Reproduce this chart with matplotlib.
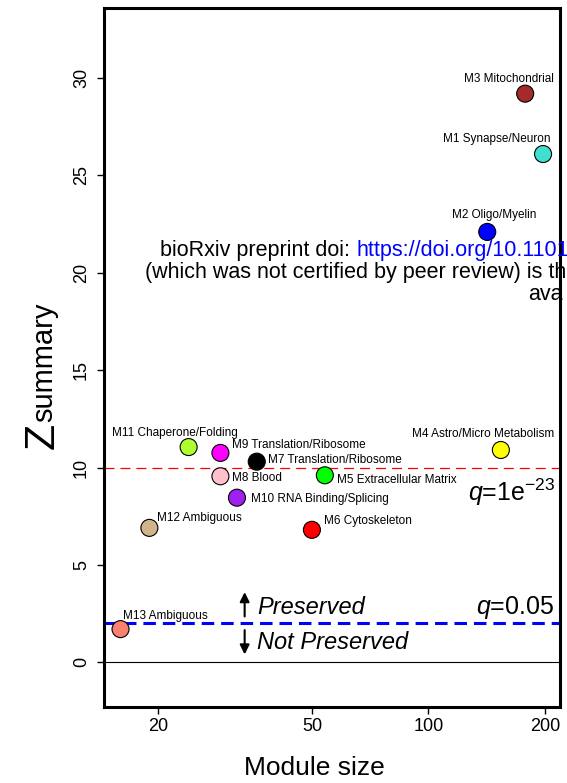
import matplotlib
matplotlib.use('Agg')
import matplotlib.pyplot as plt
import numpy as np

plt.rcParams['font.family'] = ['Liberation Sans', 'DejaVu Sans']
plt.rcParams['mathtext.fontset'] = 'custom'
plt.rcParams['mathtext.rm'] = 'Liberation Sans'
plt.rcParams['mathtext.it'] = 'Liberation Sans:italic'
plt.rcParams['lines.scale_dashes'] = False

# module preservation results
modules = ['M1 Synapse/Neuron', 'M2 Oligo/Myelin', 'M3 Mitochondrial',
           'M4 Astro/Micro Metabolism', 'M5 Extracellular Matrix', 'M6 Cytoskeleton',
           'M7 Translation/Ribosome', 'M8 Blood', 'M9 Translation/Ribosome',
           'M10 RNA Binding/Splicing', 'M11 Chaperone/Folding', 'M12 Ambiguous',
           'M13 Ambiguous']
module_size = [198, 142, 178, 154, 54, 50, 36, 29, 29, 32, 24, 19, 16]
zsummary = [26.1, 22.1, 29.2, 10.9, 9.6, 6.8, 10.3, 9.55, 10.75, 8.45, 11.05, 6.9, 1.7]
colors = ['turquoise', 'blue', 'brown', 'yellow', '#00FF00', 'red', 'black', 'pink',
          'magenta', '#A020F0', 'greenyellow', 'tan', 'salmon']

# label placement: offset in pixels (dx right, dy up) and alignment
label_dx = [-46, 7, -16, -18, 12, 12, 11, 12, 12, 14, -14, 8, 2]
label_dy = [15, 17, 15, 16, -5, 9, 2, -2, 8, -1, 14, 10, 13]
label_ha = ['center', 'center', 'center', 'center', 'left', 'left', 'left', 'left',
            'left', 'left', 'center', 'left', 'left']

W, H = 567, 783
fig = plt.figure(figsize=(W / 100, H / 100), dpi=100)
ax = fig.add_axes([104 / W, 1 - 707 / H, 456 / W, 699 / H])

ax.set_xscale('log')
ax.set_xlim(14.5, 219)
ax.set_ylim(-2.3, 33.6)

ax.axhline(0, color='black', lw=0.8, zorder=1)
ax.axhline(10, color='red', lw=0.9, dashes=(7.2, 4.3), zorder=1)
ax.axhline(2, color='blue', lw=2.2, dashes=(9.0, 5.0), zorder=1)

ax.scatter(module_size, zsummary, s=150, c=colors, edgecolors='black',
           linewidths=0.8, zorder=3)

px = 0.72  # points per pixel at 100 dpi
for name, x, y, dx, dy, ha in zip(modules, module_size, zsummary,
                                  label_dx, label_dy, label_ha):
    ax.annotate(name, (x, y), xytext=(dx * px, dy * px), textcoords='offset points',
                ha=ha, va='center', fontsize=8.5, zorder=4)

# preserved / not preserved
arrow = dict(arrowstyle='-|>', color='black', lw=1.5, mutation_scale=14,
             shrinkA=0, shrinkB=0)
ax.annotate('', xy=(33.5, 3.6), xytext=(33.5, 2.35), arrowprops=arrow)
ax.annotate('', xy=(33.5, 0.4), xytext=(33.5, 1.65), arrowprops=arrow)
ax.text(36.1, 2.82, 'Preserved', style='italic', fontsize=17, va='center', ha='left')
ax.text(36.1, 1.03, 'Not Preserved', style='italic', fontsize=17, va='center', ha='left')
ax.text(211, 2.8, r'$\mathit{q}$=0.05', fontsize=18, va='center', ha='right')
ax.text(213, 8.75, r'$\mathit{q}$=1e$^{\mathregular{-23}}$', fontsize=18,
        va='center', ha='right')

for s in ax.spines.values():
    s.set_linewidth(2.2)

ax.set_xticks([20, 50, 100, 200])
ax.set_xticklabels(['20', '50', '100', '200'])
ax.minorticks_off()
ax.set_yticks([0, 5, 10, 15, 20, 25, 30])
ax.tick_params(axis='both', length=5, width=1, labelsize=13)
ax.tick_params(axis='x', pad=3)
ax.tick_params(axis='y', pad=5)
for lab in ax.get_yticklabels():
    lab.set_rotation(90)
    lab.set_va('center')

fig.text(314 / W, 1 - 768 / H, 'Module size', fontsize=19, ha='center', va='center')
fig.text(54 / W, 1 - 449 / H, 'Z', fontsize=31, rotation=90, rotation_mode='anchor',
         ha='left', va='baseline')
fig.text(52 / W, 1 - 422 / H, 'summary', fontsize=21, rotation=90,
         rotation_mode='anchor', ha='left', va='baseline')

# preprint notice
t1 = fig.text(160 / W, 1 - 256 / H, 'bioRxiv preprint doi: ', fontsize=15.5,
              va='baseline', ha='left')
ax.annotate('https://doi.org/10.1101', xy=(1, 0), xycoords=t1, fontsize=15.5,
            color='blue', va='bottom', ha='left', annotation_clip=False)
fig.text(145 / W, 1 - 278 / H, '(which was not certified by peer review) is th',
         fontsize=15.5, va='baseline', ha='left')
fig.text(528 / W, 1 - 300 / H, 'ava', fontsize=15.5, va='baseline', ha='left')

fig.savefig('out.png', dpi=100)
